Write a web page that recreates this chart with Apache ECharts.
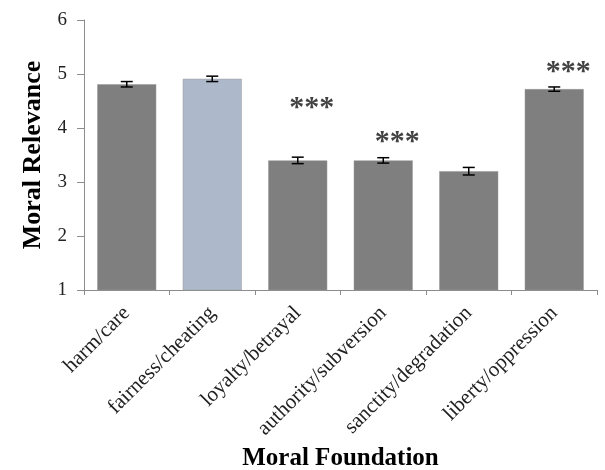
<!DOCTYPE html>
<html>
<head>
<meta charset="utf-8">
<script src="https://cdn.jsdelivr.net/npm/echarts@6/dist/echarts.min.js"></script>
<style>
  html, body { margin: 0; padding: 0; background: #fff; }
  #chart { width: 605px; height: 470px; }
</style>
</head>
<body>
<div id="chart"></div>
<script>
// data
var categories = ['harm/care', 'fairness/cheating', 'loyalty/betrayal', 'authority/subversion', 'sanctity/degradation', 'liberty/oppression'];
var means = [4.81, 4.91, 3.40, 3.40, 3.20, 4.72];
var errors = [0.05, 0.05, 0.06, 0.05, 0.07, 0.04];
var starLevels = [null, null, 4.52, 3.88, null, 5.18];
var yTicks = [1, 2, 3, 4, 5, 6];

var barColors = ['#7f7f7f', '#adb9cb', '#7f7f7f', '#7f7f7f', '#7f7f7f', '#7f7f7f'];
var serif = '"Liberation Serif", "DejaVu Serif", serif';

var myChart = echarts.init(document.getElementById('chart'));

var errData = means.map(function (m, i) { return [i, m - errors[i], m + errors[i]]; });
var starData = [];
starLevels.forEach(function (s, i) {
  if (s !== null) starData.push([i, s]);
});

myChart.setOption({
  animation: false,
  grid: { left: 84, right: 8, top: 20, bottom: 180, outerBoundsMode: 'none', containLabel: false },
  xAxis: {
    type: 'category',
    data: categories,
    name: 'Moral Foundation',
    nameLocation: 'middle',
    nameGap: 153,
    nameTextStyle: { fontFamily: serif, fontWeight: 'bold', fontSize: 25, color: '#000' },
    axisLine: { lineStyle: { color: '#8c8c8c', width: 1 } },
    axisTick: { show: true, length: 5, alignWithLabel: false, lineStyle: { color: '#8c8c8c' } },
    axisLabel: { rotate: 45, fontFamily: serif, fontSize: 21, color: '#222', margin: 20, interval: 0 }
  },
  yAxis: {
    type: 'value',
    min: yTicks[0],
    max: yTicks[yTicks.length - 1],
    interval: 1,
    name: 'Moral Relevance',
    nameLocation: 'middle',
    nameGap: 37,
    nameTextStyle: { fontFamily: serif, fontWeight: 'bold', fontSize: 26, color: '#000' },
    axisLine: { show: true, lineStyle: { color: '#8c8c8c', width: 1 } },
    axisTick: { show: true, length: 7, lineStyle: { color: '#8c8c8c' } },
    axisLabel: { fontFamily: serif, fontSize: 19, color: '#222', margin: 17 },
    splitLine: { show: false }
  },
  series: [
    {
      type: 'bar',
      barCategoryGap: '31%',
      data: means.map(function (v, i) {
        return { value: v, itemStyle: { color: barColors[i] } };
      }),
      itemStyle: { borderColor: '#999', borderWidth: 0.5 }
    },
    {
      type: 'custom',
      data: errData,
      z: 10,
      renderItem: function (params, api) {
        var x = api.value(0);
        var lo = api.coord([x, api.value(1)]);
        var hi = api.coord([x, api.value(2)]);
        var half = 6;
        var st = { stroke: '#000', lineWidth: 1.5 };
        return {
          type: 'group',
          children: [
            { type: 'line', shape: { x1: lo[0], y1: lo[1], x2: hi[0], y2: hi[1] }, style: st },
            { type: 'line', shape: { x1: lo[0] - half, y1: lo[1], x2: lo[0] + half, y2: lo[1] }, style: st },
            { type: 'line', shape: { x1: hi[0] - half, y1: hi[1], x2: hi[0] + half, y2: hi[1] }, style: st }
          ]
        };
      }
    },
    {
      type: 'scatter',
      data: starData,
      symbolSize: 0,
      silent: true,
      label: {
        show: true,
        formatter: '***',
        position: 'inside',
        offset: [14, 8],
        fontFamily: serif,
        fontWeight: 'bold',
        fontSize: 30,
        color: '#111'
      }
    }
  ]
});
</script>
</body>
</html>
